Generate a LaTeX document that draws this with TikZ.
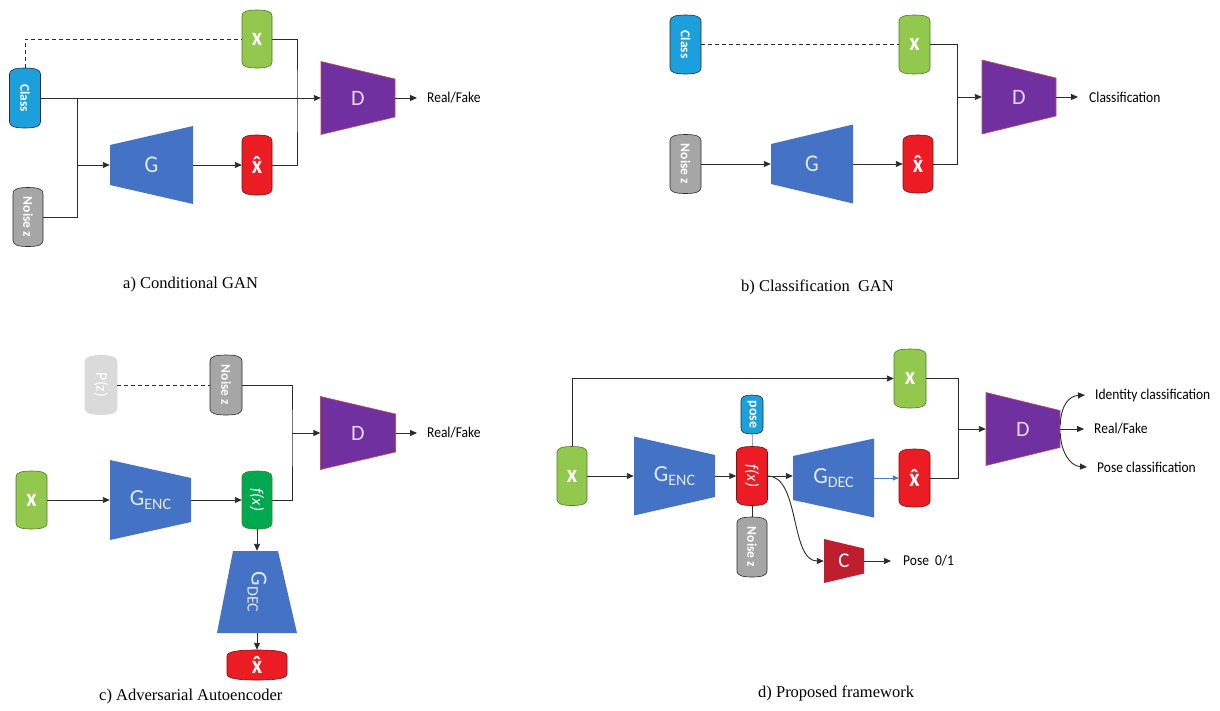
\documentclass[tikz,border=0pt]{standalone}
\usepackage{fontspec}
\setmainfont{Carlito}
\newfontfamily\captionfnt{Liberation Serif}
\usetikzlibrary{arrows.meta,calc}

\definecolor{cblue}{HTML}{1CA0DC}
\definecolor{cgreen}{HTML}{92C84E}
\definecolor{cgreenb}{HTML}{4E7A26}
\definecolor{cred}{HTML}{EC1C24}
\definecolor{credb}{HTML}{7A1010}
\definecolor{cgray}{HTML}{A6A6A6}
\definecolor{cltgray}{HTML}{DADADA}
\definecolor{cgreentwo}{HTML}{00A850}
\definecolor{gblue}{HTML}{4472C4}
\definecolor{gtxt}{HTML}{E2E9F6}
\definecolor{dpurple}{HTML}{7030A0}
\definecolor{dborder}{HTML}{C0504D}
\definecolor{dtxt}{HTML}{E6D6F0}
\definecolor{cdark}{HTML}{BE1E2D}
\definecolor{lineblack}{HTML}{2B2B2B}
\definecolor{poseline}{HTML}{8EA9DB}
\definecolor{arrblue}{HTML}{4A7EBB}

\newcommand\lblfont{\fontsize{15}{18}\selectfont}
\newcommand\sq[1]{\scalebox{0.9}[1]{#1}}
\newcommand\rtext[1]{\rotatebox{-90}{#1}}

\tikzset{
  pillpath/.style={line width=0.6pt},
  pillnode/.style={inner sep=0pt, text=white},
  trapnode/.style={inner sep=0pt, minimum height=10pt},
  gtrap/.style={fill=gblue},
  dtrap/.style={fill=dpurple, draw=dborder, line width=0.6pt},
  ctrap/.style={fill=cdark},
  conn/.style={line width=0.9pt, draw=lineblack},
  arr/.style={conn, -{Triangle[length=7pt,width=6pt]}},
  dashline/.style={conn, dash pattern=on 4pt off 3pt},
  lbl/.style={inner ysep=0pt, inner xsep=10pt, anchor=west, font=\lblfont, text=black},
  captxt/.style={inner sep=0pt, anchor=west, font=\captionfnt\fontsize{16.5}{18}\selectfont},
}

% name, cx, cy, w, h, fill, draw, text
\newcommand\pill[8]{%
  \pgfmathsetmacro\pXa{#2-#4/2}%
  \pgfmathsetmacro\pXb{#2+#4/2}%
  \pgfmathsetmacro\pYa{#3-#5/2}%
  \pgfmathsetmacro\pYb{#3+#5/2}%
  \pgfmathsetmacro\pXl{#2-0.32*#4}%
  \pgfmathsetmacro\pXr{#2+0.32*#4}%
  \path[pillpath,fill=#6,draw=#7] (\pXa,\pYa+6) .. controls (\pXa,\pYa+1.5) and (\pXl,\pYa) .. (#2,\pYa)
     .. controls (\pXr,\pYa) and (\pXb,\pYa+1.5) .. (\pXb,\pYa+6) -- (\pXb,\pYb-6)
     .. controls (\pXb,\pYb-1.5) and (\pXr,\pYb) .. (#2,\pYb)
     .. controls (\pXl,\pYb) and (\pXa,\pYb-1.5) .. (\pXa,\pYb-6) -- cycle;
  \node[pillnode,minimum width=#4pt,minimum height=#5pt] (#1) at (#2,#3) {#8};}

% name, cx, cy, w, hl, hr, style, text
\newcommand\trap[8]{%
  \path[#7] ({#2-#4/2},{#3-#5/2}) -- ({#2+#4/2},{#3-#6/2}) -- ({#2+#4/2},{#3+#6/2}) -- ({#2-#4/2},{#3+#5/2}) -- cycle;
  \node[trapnode,minimum width=#4pt] (#1) at (#2,#3) {#8};}

\newcommand\xbig{\fontsize{25}{25}\selectfont\bfseries\sq{x}}
\newcommand\xhat{\fontsize{25}{25}\selectfont\bfseries\sq{\accent"02C6 x}}
\newcommand\pillsmall[1]{\rtext{\fontsize{13.5}{14}\selectfont\bfseries #1}}
\newcommand\dtext{{\color{dtxt}\fontsize{22}{22}\selectfont D}}
\newcommand\fxtext{\rtext{\fontsize{16.5}{17}\selectfont\itshape f(x)}}

\begin{document}
\begin{tikzpicture}[x=1pt,y=-1pt]
\useasboundingbox (0,0) rectangle (1220,710);

% ================= a) Conditional GAN =================
\pill{ac}{25}{98}{31}{60}{cblue}{lineblack}{\pillsmall{Class}}
\pill{an}{28}{217}{30}{59}{cgray}{lineblack}{\pillsmall{Noise z}}
\pill{ax}{257}{39}{30}{58}{cgreen}{cgreenb}{\xbig}
\pill{axh}{257}{165}{30}{60}{cred}{credb}{\xhat}
\trap{aG}{151.5}{165}{83}{40}{78}{gtrap}{{\color{gtxt}\fontsize{24}{24}\selectfont\sq{G}}}
\trap{aD}{358}{98}{74}{73}{38}{dtrap}{\dtext}
\node[lbl] (arf) at (417,98) {\sq{Real/Fake}};
\coordinate (ab) at (77,98);
\coordinate (aj) at (77,165);
\coordinate (aV) at (297,100);
\draw[dashline] (ac.north) |- (ax.west);
\draw[arr] (ac.east) -- (ac.east -| aD.west);
\draw[conn] (an.east) -| (ab);
\draw[arr] (aj) -- (aG.west);
\draw[arr] (aG.east) -- (axh.west);
\draw[conn] (ax.east) -| (aV) |- (axh.east);
\draw[arr] (aD.east) -- (arf.west);
\node[captxt] (capa) at (123,285) {a) Conditional GAN};

% ================= b) Classification GAN =================
\pill{bc}{685.5}{44.5}{31}{59}{cblue}{lineblack}{\pillsmall{Class}}
\pill{bx}{914.5}{44.5}{31}{59}{cgreen}{cgreenb}{\xbig}
\pill{bn}{685.5}{164}{31}{59}{cgray}{lineblack}{\pillsmall{Noise z}}
\pill{bxh}{918}{164}{30}{58}{cred}{credb}{\xhat}
\trap{bG}{812}{164}{82}{40}{79}{gtrap}{{\color{gtxt}\fontsize{24}{24}\selectfont\sq{G}}}
\trap{bD}{1019}{97}{74}{74}{38}{dtrap}{\dtext}
\node[lbl,inner xsep=11pt] (bcl) at (1078,97) {\sq{Classification}};
\coordinate (bV) at (957,97);
\draw[dashline] (bc.east) -- (bx.west);
\draw[arr] (bn.east) -- (bG.west);
\draw[arr] (bG.east) -- (bxh.west);
\draw[conn] (bx.east) -| (bV) |- (bxh.east);
\draw[arr] (bV) -- (bD.west);
\draw[arr] (bD.east) -- (bcl.west);
\node[captxt] (capb) at (741,287) {b) Classification~ GAN};

% ================= c) Adversarial Autoencoder =================
\pill{cp}{101}{385}{32}{59}{cltgray}{cltgray}{\rtext{\fontsize{16}{16}\selectfont P(z)}}
\pill{cn}{226}{385}{32}{60}{cgray}{lineblack}{\pillsmall{Noise z}}
\pill{cx}{31.5}{500}{31}{58}{cgreen}{cgreenb}{\xbig}
\pill{cf}{257}{500}{30}{58}{cgreentwo}{cgreenb}{\fxtext}
\trap{cG}{150.5}{500}{81}{80}{44}{gtrap}{{\color{gtxt}\fontsize{23}{23}\selectfont G\raisebox{-4pt}{\fontsize{16}{16}\selectfont ENC}}}
\trap{cD}{358}{433}{75}{73}{38}{dtrap}{\dtext}
\node[lbl] (crf) at (417,433) {\sq{Real/Fake}};
% vertical decoder
\path[gtrap] (233,551) -- (278,551) -- (297,633) -- (217,633) -- cycle;
\node[inner sep=0pt, minimum width=80pt, minimum height=82pt] (cGd) at (257,592)
  {\rtext{{\color{gtxt}\fontsize{23}{23}\selectfont G\raisebox{-4pt}{\fontsize{16}{16}\selectfont DEC}}}};
\pill{cxh}{257}{665}{60}{30}{cred}{credb}{\xhat}
\coordinate (cV) at (292,433);
\draw[dashline] (cp.east) -- (cn.west);
\draw[conn] (cn.east) -| (cV) |- (cf.east);
\draw[arr] (cV) -- (cD.west);
\draw[arr] (cD.east) -- (crf.west);
\draw[arr] (cx.east) -- (cG.west);
\draw[arr] (cG.east) -- (cf.west);
\draw[arr] (cf.south) -- (cGd.north);
\draw[arr] (cGd.south) -- (cxh.north);
\node[captxt] (capc) at (99,697) {c) Adversarial Autoencoder};

% ================= d) Proposed framework =================
\pill{dx}{572}{476}{30}{59}{cgreen}{cgreenb}{\xbig}
\pill{dxt}{910}{378.5}{32}{59}{cgreen}{cgreenb}{\xbig}
\trap{dGe}{674.5}{476}{81}{79}{42}{gtrap}{{\color{gtxt}\fontsize{23}{23}\selectfont G\raisebox{-4pt}{\fontsize{16}{16}\selectfont ENC}}}
\pill{dfx}{752}{476}{31}{59}{cred}{credb}{\fxtext}
\pill{dpose}{752}{414.5}{22}{39}{cblue}{lineblack}{\rtext{\fontsize{14}{14}\selectfont\bfseries pose}}
\pill{dnz}{752}{547}{30}{60}{cgray}{lineblack}{\pillsmall{Noise z}}
\trap{dGd}{833.5}{478}{81}{44}{79}{gtrap}{{\color{gtxt}\fontsize{23}{23}\selectfont G\raisebox{-4pt}{\fontsize{16}{16}\selectfont DEC}}}
\pill{dxh}{914.5}{478}{31}{58}{cred}{credb}{\xhat}
\trap{dD}{1023}{429}{74}{73}{37}{dtrap}{\dtext}
\trap{dC}{844}{561}{40}{44}{25}{ctrap}{{\color{white}\fontsize{21}{21}\selectfont C}}
\node[lbl] (did) at (1085,395) {\sq{Identity classification}};
\node[lbl] (drf) at (1084,429) {\sq{Real/Fake}};
\node[lbl] (dpc) at (1087,467) {\sq{Pose classification}};
\node[lbl,inner xsep=12pt] (dpo) at (891,561) {\sq{Pose~~0/1}};
\coordinate (dV) at (958,429);
\draw[arr] (dx.north) |- (dxt.west);
\draw[arr] (dx.east) -- (dGe.west);
\draw[arr] (dGe.east) -- (dfx.west);
\draw[line width=0.8pt, draw=poseline] (dpose.south) -- (dfx.north);
\draw[conn] (dfx.south) -- (dnz.north);
\draw[arr] (dfx.east) -- (dfx.east -| dGd.west);
\draw[line width=0.8pt, draw=arrblue, -{Triangle[length=6pt,width=5pt]}] (dGd.east) -- (dxh.west);
\draw[conn] (dxt.east) -| (dV) |- (dxh.east);
\draw[arr] (dV) -- (dD.west);
\draw[arr] ([yshift=4pt]dD.east) .. controls (1061,405) and (1069,396) .. (did.west);
\draw[arr] (dD.east) -- (drf.west);
\draw[arr] ([yshift=-4pt]dD.east) .. controls (1061,452) and (1070,466) .. (dpc.west);
\draw[arr] (dfx.east) .. controls (800,476) and (790,561) .. (dC.west);
\draw[arr] (dC.east) -- (dpo.west);
\node[captxt] (capd) at (758,693) {d) Proposed framework};
\end{tikzpicture}
\end{document}
